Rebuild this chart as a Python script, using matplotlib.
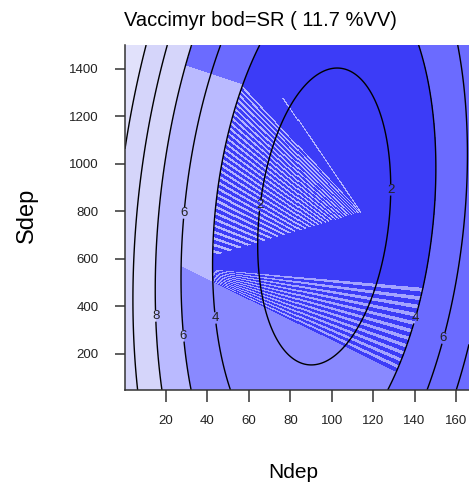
import numpy as np
import matplotlib
matplotlib.use('Agg')
import matplotlib.pyplot as plt
from matplotlib.colors import to_rgb
from matplotlib.path import Path

plt.rcParams['font.family'] = ['Liberation Sans', 'DejaVu Sans']

# fitted response surface: SR ~ Ndep + Ndep^2 + Sdep + Sdep^2 + Ndep:Sdep
coef_names = ['(Intercept)', 'Ndep', 'I(Ndep^2)', 'Sdep', 'I(Sdep^2)', 'Ndep:Sdep']
coef_values = [11.31124, -0.196442, 1.10859e-3, -2.42291e-3, 2.92686e-6, -2.21718e-5]

contour_levels = [2, 4, 6, 8, 10, 12]
label_N = [65.4, 128.1, 44.1, 140.2, 28.2, 28.2, 153.7, 14.7]
label_S = [827, 891, 352, 352, 794, 276, 267, 360]

x_ticks = [20, 40, 60, 80, 100, 120, 140, 160]
y_ticks = [200, 400, 600, 800, 1000, 1200, 1400]
x_lim = (0.2, 166.3)
y_lim = (48.4, 1501)

title = 'Vaccimyr bod=SR ( 11.7 %VV)'

# band colours (as rendered in the original image)
DARK = '#3c3cf7'
MID = '#6b6bff'
LOW = '#8989ff'
PALE = '#babaff'
LIGHT = '#d5d5fa'
LIGHTEST = '#e1e1fb'
STREAK_UP = '#b4b4ff'
STREAK_LOW = '#a4a4ff'

# rendering artefacts of the original polygon fill (data coords)
upper_split = [(29.2, 1416.8), (56.7, 1336.8)]
lower_split = [(27.7, 566.3), (131.5, 120.0)]
lower_streak_top = [(43.6, 553.7), (143.6, 477.9)]
upper_wedge = [(54.8, 1353.7), (113.6, 797.9), (84.7, 722.1), (42.7, 612.6), (36.4, 1058.9)]
upper_fan_a = [(55.7, 1341.0), (113.6, 797.9)]
upper_fan_b = [(42.7, 637.9), (84.7, 528.4)]
ray = [(76.5, 1277.9), (113.6, 797.9)]


def surface(n, s):
    b = coef_values
    return b[0] + b[1] * n + b[2] * n ** 2 + b[3] * s + b[4] * s ** 2 + b[5] * n * s


fig = plt.figure(figsize=(4.69, 4.88), dpi=100)
ax = fig.add_axes([125 / 469, 1 - 390 / 488, 344 / 469, 345 / 488])

nx, ny = 344, 345
sx = nx / (x_lim[1] - x_lim[0])
sy = ny / (y_lim[1] - y_lim[0])


def to_px(p):
    return ((p[0] - x_lim[0]) * sx, (y_lim[1] - p[1]) * sy)


def line_y(px, seg):
    a, b = to_px(seg[0]), to_px(seg[1])
    return a[1] + (b[1] - a[1]) / (b[0] - a[0]) * (px - a[0])


n = np.linspace(x_lim[0], x_lim[1], nx)
s = np.linspace(y_lim[0], y_lim[1], ny)
NN, SS = np.meshgrid(n, s)
Z = surface(NN, SS)
PX = (NN - x_lim[0]) * sx
PY = (y_lim[1] - SS) * sy

ridge = -(coef_values[1] + coef_values[5] * SS) / (2 * coef_values[2])
left = NN < ridge
inner = Z < 4

rgb = np.zeros(Z.shape + (3,))
rgb[:] = to_rgb(DARK)
rgb[left & (Z >= 4) & (Z < 8)] = to_rgb(PALE)
rgb[left & (Z >= 8) & (Z < 12)] = to_rgb(LIGHT)
rgb[left & (Z >= 12)] = to_rgb(LIGHTEST)
rgb[~left & (Z >= 4)] = to_rgb(MID)

above_u = PY < line_y(PX, upper_split)
rgb[above_u & left & (Z >= 4) & (Z < 8)] = to_rgb(MID)

yL = line_y(PX, lower_split)
below_l = PY > yL
rgb[below_l & (inner | (left & (Z < 6)))] = to_rgb(LOW)

yT = line_y(PX, lower_streak_top)
band = inner & (PY > yT) & ~below_l
t = (PY - yT) / np.maximum(yL - yT, 1e-6)
rgb[band & ((t * 11) % 1 < 0.45)] = to_rgb(STREAK_LOW)

wedge = Path(upper_wedge).contains_points(np.c_[NN.ravel(), SS.ravel()]).reshape(Z.shape)
yA = line_y(PX, upper_fan_a)
yB = line_y(PX, upper_fan_b)
tu = (PY - yA) / np.maximum(yB - yA, 1e-6)
rgb[wedge & inner & ((tu * 30) % 1 < 0.42)] = to_rgb(STREAK_UP)

r0, r1 = np.array(to_px(ray[0])), np.array(to_px(ray[1]))
d = r1 - r0
u = np.clip(((PX - r0[0]) * d[0] + (PY - r0[1]) * d[1]) / (d @ d), 0, 1)
dist = np.hypot(PX - (r0[0] + u * d[0]), PY - (r0[1] + u * d[1]))
rgb[(dist < 0.6) & inner] = to_rgb(STREAK_UP)

ax.imshow(rgb, extent=[x_lim[0], x_lim[1], y_lim[0], y_lim[1]], origin='lower',
          aspect='auto', interpolation='nearest')

cn = np.linspace(x_lim[0], x_lim[1], 400)
cs_ = np.linspace(y_lim[0], y_lim[1], 400)
CN, CS = np.meshgrid(cn, cs_)
cs = ax.contour(CN, CS, surface(CN, CS), levels=contour_levels, colors='black', linewidths=1.0)
labels = ax.clabel(cs, manual=list(zip(label_N, label_S)), inline=True, fontsize=9.5,
                   fmt='%d', colors='#222222', inline_spacing=2)
for lab in labels:
    lab.set_rotation(0)

ax.set_xlim(x_lim)
ax.set_ylim(y_lim)
ax.set_xticks(x_ticks)
ax.set_yticks(y_ticks)
for sp in ['top', 'right']:
    ax.spines[sp].set_visible(False)
for sp in ['left', 'bottom']:
    ax.spines[sp].set_color('#333333')
    ax.spines[sp].set_linewidth(1.1)
ax.tick_params(axis='x', direction='out', length=8.6, width=1.1, color='#333333',
               pad=9.4, labelsize=9.5, labelcolor='#222222')
ax.tick_params(axis='y', direction='out', length=7.2, width=1.1, color='#333333',
               pad=12, labelsize=9.5, labelcolor='#222222')

fig.text(260 / 469, 1 - 20 / 488, title, ha='center', va='center', fontsize=14.5)
fig.text(293 / 469, 1 - 473 / 488, 'Ndep', ha='center', va='center', fontsize=15)
fig.text(27 / 469, 1 - 215 / 488, 'Sdep', ha='center', va='center', fontsize=17, rotation=90)

fig.savefig('out.png', dpi=100)
